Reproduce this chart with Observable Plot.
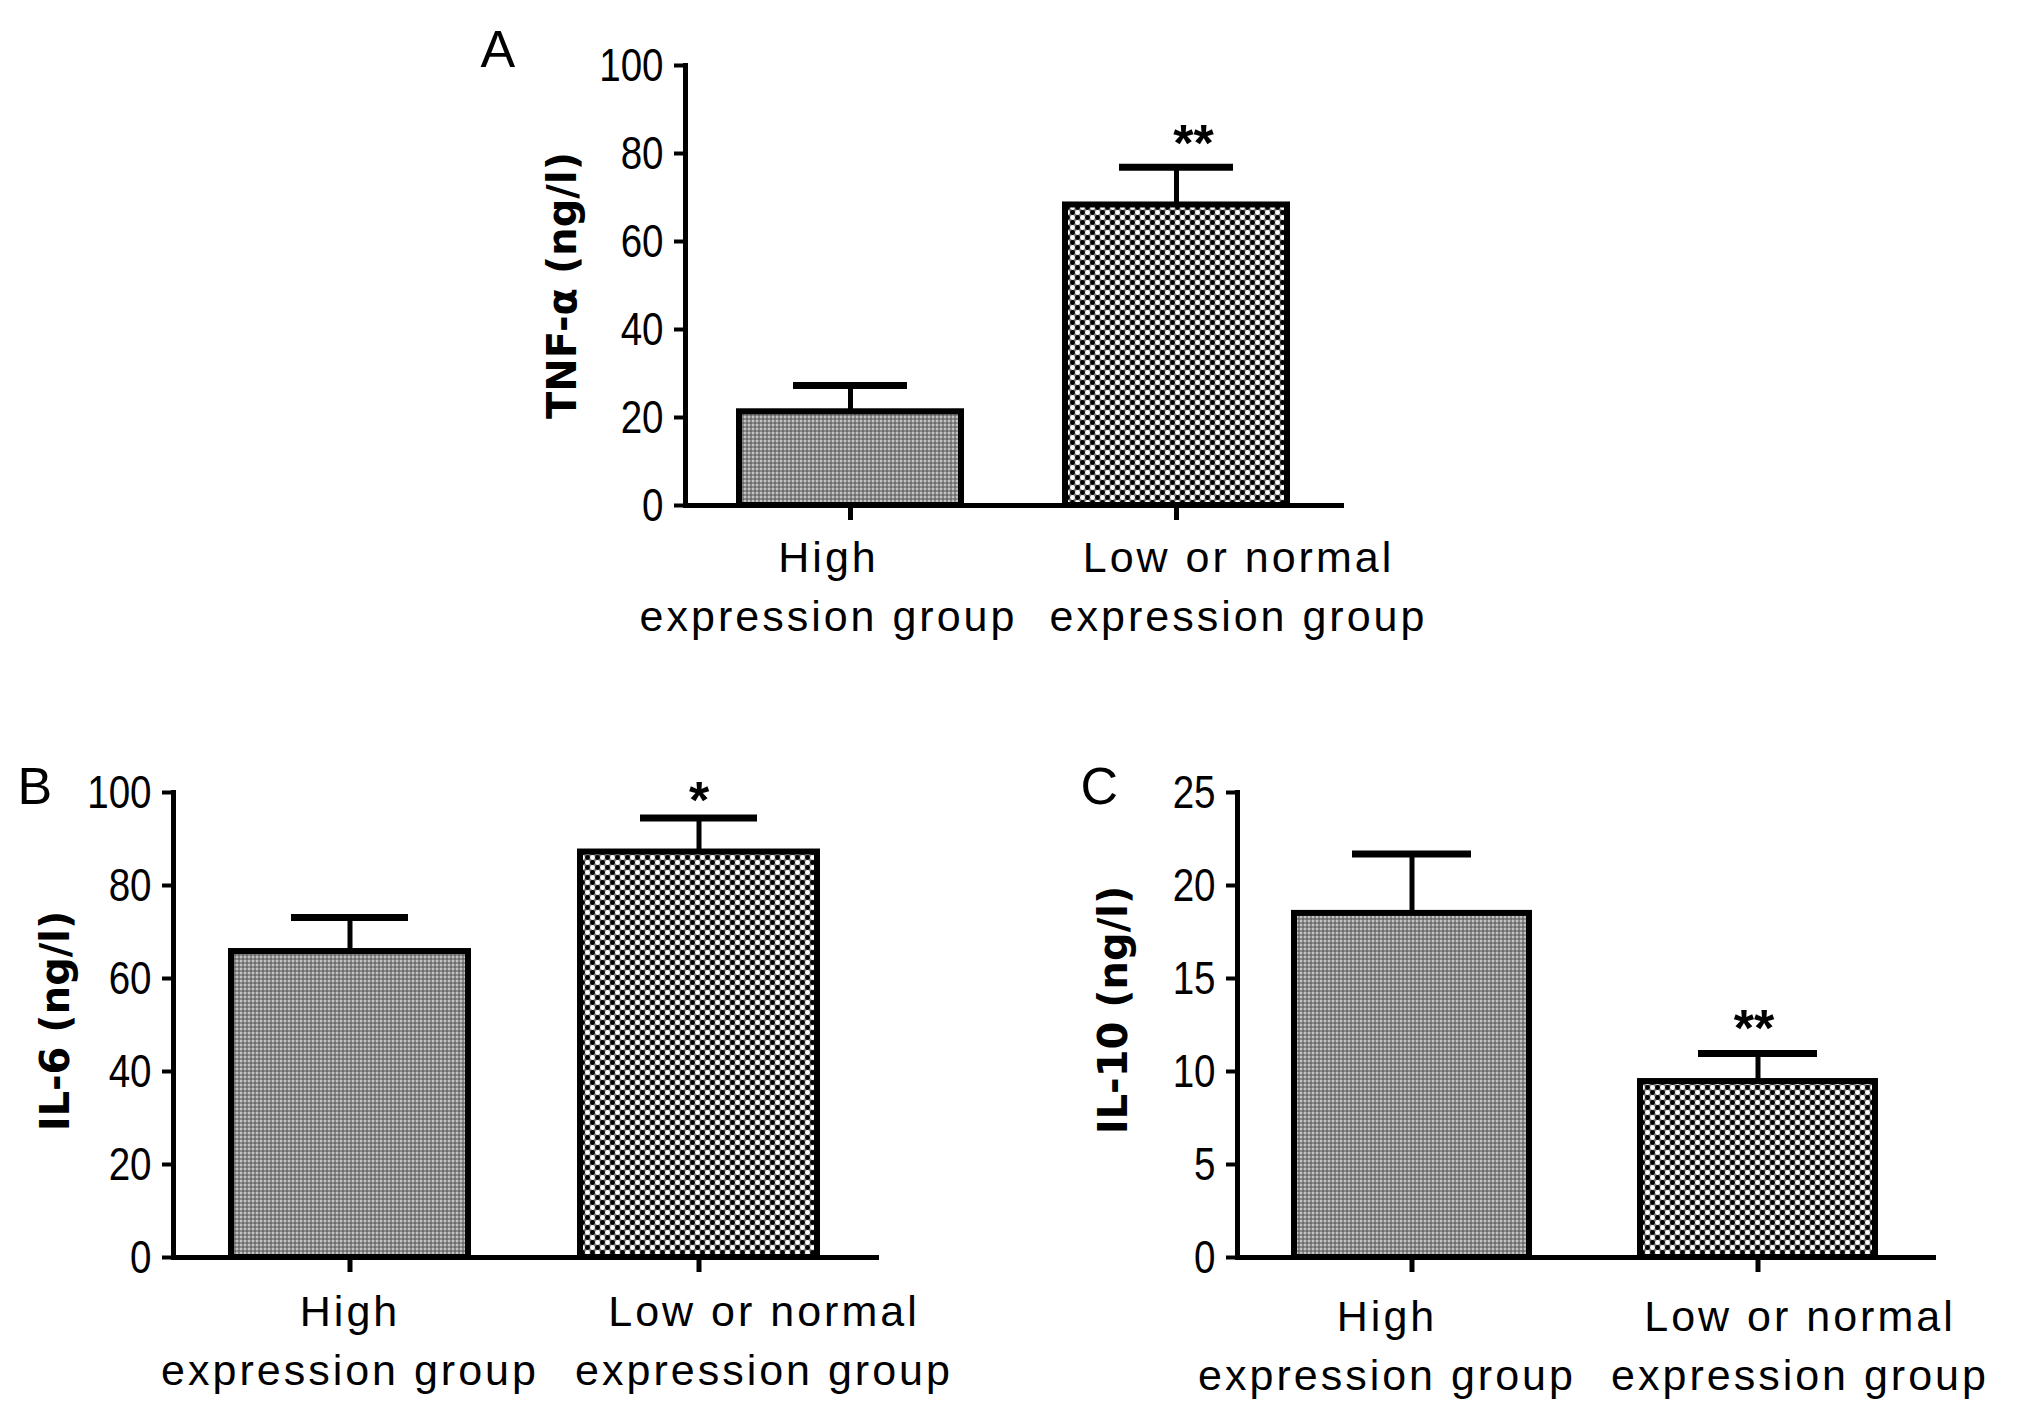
<!DOCTYPE html>
<html>
<head>
<meta charset="utf-8">
<script src="https://cdn.jsdelivr.net/npm/d3@7"></script>
<script src="https://cdn.jsdelivr.net/npm/@observablehq/plot@0.6"></script>
<style>
  body { margin: 0; background: #fff; }
  #fig { position: relative; width: 2031px; height: 1415px; background: #fff; overflow: hidden; }
  #fig > div { position: absolute; }
</style>
</head>
<body>
<!-- fill patterns shared by all three panels -->
<svg width="0" height="0" style="position:absolute">
  <defs>
    <pattern id="dither" width="4" height="4" patternUnits="userSpaceOnUse">
      <rect width="4" height="4" fill="#8a8a8a"/>
      <rect x="0" y="0" width="2" height="2" fill="#c2c2c2"/>
      <rect x="2" y="2" width="2" height="2" fill="#6c6c6c"/>
    </pattern>
    <pattern id="checker" width="10" height="10" patternUnits="userSpaceOnUse">
      <rect width="10" height="10" fill="#7a7a7a"/>
      <circle cx="2.5" cy="2.5" r="2.4" fill="#000"/>
      <circle cx="7.5" cy="7.5" r="2.4" fill="#000"/>
      <circle cx="7.5" cy="2.5" r="2.4" fill="#fff"/>
      <circle cx="2.5" cy="7.5" r="2.4" fill="#fff"/>
    </pattern>
  </defs>
</svg>
<div id="fig">
  <div id="panelA"></div>
  <div id="panelB"></div>
  <div id="panelC"></div>
</div>
<script>
// categories
const groups = ["High\nexpression group", "Low or normal\nexpression group"]

// A: TNF-α
const tnfMean = [21.3, 68.3]
const tnfUpper = [27.3, 76.9]
const tnfSig = ["", "**"]
const tnfSigY = [null, 83]
const tnfTicks = [0, 20, 40, 60, 80, 100]

// B: IL-6
const il6Mean = [65.8, 87.2]
const il6Upper = [73.1, 94.5]
const il6Sig = ["", "*"]
const il6SigY = [null, 99]
const il6Ticks = [0, 20, 40, 60, 80, 100]

// C: IL-10
const il10Mean = [18.5, 9.46]
const il10Upper = [21.7, 10.97]
const il10Sig = ["", "**"]
const il10SigY = [null, 12.5]
const il10Ticks = [0, 5, 10, 15, 20, 25]

const groupFill = ["url(#dither)", "url(#checker)"]
const font = "'Liberation Sans', Arial, Helvetica, sans-serif"

function panel(o) {
  const rows = groups.map((g, i) => ({
    group: g, mean: o.mean[i], upper: o.upper[i], sig: o.sig[i], sigY: o.sigY[i], fill: groupFill[i]
  }))
  const chart = Plot.plot({
    width: o.width,
    height: o.height,
    marginTop: o.mt,
    marginRight: o.mr,
    marginBottom: o.mb,
    marginLeft: o.ml,
    style: { background: "transparent", fontFamily: font, fontSize: "40px", color: "black", overflow: "visible" },
    x: { domain: groups, paddingInner: 0.32, paddingOuter: 0.165, axis: null, label: null },
    y: { domain: [0, o.ticks[o.ticks.length - 1]], axis: null, label: null },
    color: { type: "identity" },
    marks: [
      Plot.barY(rows, { x: "group", y: "mean", fill: "fill", stroke: "black", strokeWidth: 6 }),
      Plot.ruleX(rows, { x: "group", y1: "mean", y2: "upper", stroke: "black", strokeWidth: 5 }),
      Plot.tickY(rows, { x: "group", y: "upper", stroke: "black", strokeWidth: 7, insetLeft: o.capInset, insetRight: o.capInset }),
      Plot.text(rows.filter(d => d.sig), { x: "group", y: "sigY", text: "sig", fontSize: 52, fontWeight: "bold", dy: 4, dx: o.sigDx }),
      Plot.axisY({ ticks: o.ticks, tickSize: 11, tickPadding: 11, strokeWidth: 4, fontSize: 47, label: null }),
      Plot.frame({ anchor: "left", stroke: "black", strokeWidth: 5, strokeLinecap: "square" }),
      Plot.frame({ anchor: "bottom", stroke: "black", strokeWidth: 5, strokeLinecap: "square" }),
      Plot.axisX({ tickSize: 15, strokeWidth: 5, tickFormat: () => "", label: null }),
      ...groups.map((g, i) => Plot.axisX([g], {
        tickSize: 0, tickPadding: o.labelPad, dx: o.labelShift[i], fontSize: 43, lineHeight: 1.38, label: null
      })),
      Plot.text([o.yLabel], {
        text: d => d, frameAnchor: "left", textAnchor: "middle", rotate: -90, dx: o.yLabelDx, dy: o.yLabelDy,
        fontFamily: "'DejaVu Sans', sans-serif", fontWeight: "bold", fontSize: 40
      }),
      Plot.text([o.letter], {
        text: d => d, frameAnchor: "top-left", textAnchor: "start", lineAnchor: "bottom",
        dx: o.letterDx, dy: o.letterDy, fontSize: 52
      })
    ]
  })
  d3.select(chart).selectAll('g[aria-label="x-axis tick label"] text').style("letter-spacing", "3px")
  const box = d3.select(o.el).style("left", o.left + "px").style("top", o.top + "px")
  box.append(() => chart)
  // the tick numbers in the figure are tall and narrow: squeeze them sideways
  d3.select(chart).selectAll('g[aria-label="y-axis tick label"] text').each(function () {
    const w = this.getComputedTextLength()
    this.setAttribute("textLength", w * 0.82)
    this.setAttribute("lengthAdjust", "spacingAndGlyphs")
  })
}

panel({
  el: "#panelA", left: 400, top: 0, width: 1200, height: 700,
  mt: 65, mr: 259, mb: 195, ml: 285,
  mean: tnfMean, upper: tnfUpper, sig: tnfSig, sigY: tnfSigY, ticks: tnfTicks,
  capInset: 54, sigDx: 17, labelPad: 24, labelShift: [-22, 62],
  yLabel: "TNF-α (ng/l)", yLabelDx: -122, yLabelDy: 0,
  letter: "A", letterDx: -205, letterDy: 1
})

panel({
  el: "#panelB", left: 0, top: 700, width: 1020, height: 715,
  mt: 92, mr: 144, mb: 158, ml: 173,
  mean: il6Mean, upper: il6Upper, sig: il6Sig, sigY: il6SigY, ticks: il6Ticks,
  capInset: 60, sigDx: 0, labelPad: 26, labelShift: [0, 65],
  yLabel: "IL-6 (ng/l)", yLabelDx: -117, yLabelDy: -4,
  letter: "B", letterDx: -156, letterDy: 11
})

panel({
  el: "#panelC", left: 1020, top: 700, width: 1011, height: 715,
  mt: 92, mr: 98, mb: 158, ml: 217,
  mean: il10Mean, upper: il10Upper, sig: il10Sig, sigY: il10SigY, ticks: il10Ticks,
  capInset: 58, sigDx: -4, labelPad: 31, labelShift: [-25, 42],
  yLabel: "IL-10 (ng/l)", yLabelDx: -123, yLabelDy: -15,
  letter: "C", letterDx: -157, letterDy: 11
})
</script>
</body>
</html>
